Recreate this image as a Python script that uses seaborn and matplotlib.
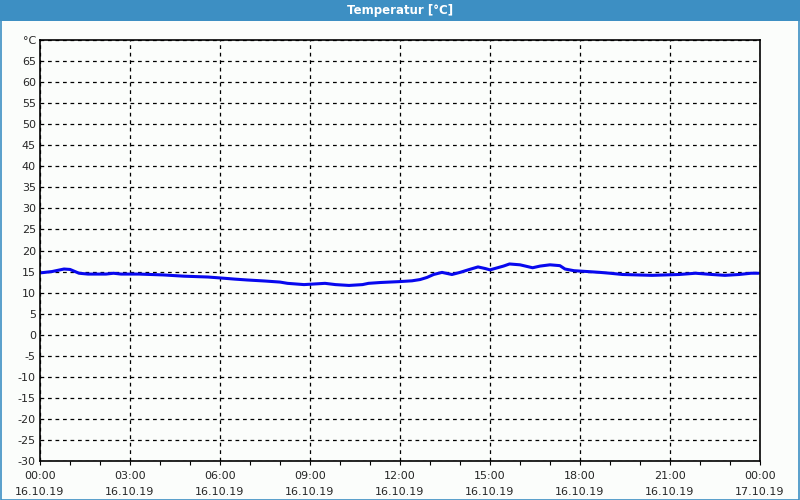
import matplotlib
matplotlib.use("Agg")
import matplotlib.pyplot as plt
import matplotlib.patches as mpatches
import seaborn as sns
import pandas as pd
import numpy as np

# data: hours since 16.10.19 00:00, temperature in °C
hours = [0.03, 0.4, 0.8, 1.0, 1.3, 1.6, 2.2, 2.45, 2.7, 3.3, 4.1, 4.8, 5.6,
         6.15, 6.5, 6.9, 7.5, 8.0, 8.25, 8.8, 9.5, 9.85, 10.3, 10.75, 10.95,
         11.35, 11.95, 12.4, 12.67, 12.9, 13.12, 13.4, 13.73, 14.0, 14.27,
         14.6, 14.85, 15.0, 15.25, 15.45, 15.65, 16.0, 16.42, 16.67, 17.0,
         17.33, 17.5, 17.8, 18.25, 18.67, 19.0, 19.42, 20.4, 21.3, 21.85,
         22.4, 22.83, 23.3, 23.7, 23.95]
temps = [14.7, 15.0, 15.6, 15.5, 14.6, 14.4, 14.4, 14.6, 14.4, 14.4, 14.2,
         13.9, 13.7, 13.4, 13.2, 13.0, 12.75, 12.5, 12.2, 11.9, 12.2, 11.9,
         11.7, 11.9, 12.2, 12.4, 12.6, 12.8, 13.1, 13.6, 14.3, 14.8, 14.3,
         14.8, 15.4, 16.1, 15.7, 15.4, 15.9, 16.3, 16.8, 16.6, 15.9, 16.3,
         16.6, 16.4, 15.6, 15.2, 15.0, 14.8, 14.6, 14.3, 14.1, 14.3, 14.6,
         14.3, 14.1, 14.3, 14.6, 14.6]

xtick_hours = [0, 3, 6, 9, 12, 15, 18, 21, 24]
xtick_labels = ["00:00\n16.10.19", "03:00\n16.10.19", "06:00\n16.10.19",
                "09:00\n16.10.19", "12:00\n16.10.19", "15:00\n16.10.19",
                "18:00\n16.10.19", "21:00\n16.10.19", "00:00\n17.10.19"]
ytick_vals = list(range(-30, 75, 5))
ytick_labels = [str(v) for v in ytick_vals[:-1]] + ["°C"]

sns.set_theme(style="white")
plt.rcParams['font.family'] = ['DejaVu Sans']

fig = plt.figure(figsize=(8, 5), dpi=100)
fig.patch.set_facecolor("#fbfdfb")

# title bar
title_blue = "#3d8fc3"
fig.patches.append(mpatches.Rectangle((0, 1 - 21 / 500), 1, 21 / 500,
                                      transform=fig.transFigure,
                                      facecolor=title_blue, edgecolor="none",
                                      zorder=0))
# border
fig.patches.append(mpatches.Rectangle((0.5 / 800, 0.5 / 500), 1 - 1.5 / 800,
                                      1 - 1 / 500, transform=fig.transFigure,
                                      facecolor="none", edgecolor=title_blue,
                                      linewidth=1.2, zorder=1))
fig.text(0.5, 1 - 10.5 / 500, "Temperatur [°C]", color="white",
         fontsize=8.5, fontweight="bold", ha="center", va="center")

ax = fig.add_axes([40 / 800, 39 / 500, 720 / 800, 421 / 500])
ax.set_facecolor("#fbfdfb")

df = pd.DataFrame({"h": hours, "t": temps})
sns.lineplot(data=df, x="h", y="t", ax=ax, color="#0808ee", linewidth=2.2)

ax.set_xlim(0, 24)
ax.set_ylim(-30, 70)
ax.set_xticks(xtick_hours)
ax.set_xticklabels(xtick_labels, fontsize=8, linespacing=1.8)
ax.set_xticks(list(range(0, 25)), minor=True)
ax.set_yticks(ytick_vals)
ax.set_yticklabels(ytick_labels, fontsize=8)
ax.set_xlabel("")
ax.set_ylabel("")

ax.grid(True, which="major", color="black", linestyle=(0, (3, 3)),
        linewidth=0.9)
ax.tick_params(axis="x", which="major", length=3, width=0.8, color="black",
               pad=4, direction="out", bottom=True)
ax.tick_params(axis="x", which="minor", length=3, width=0.8, color="black",
               direction="out", bottom=True)
ax.tick_params(axis="y", length=0, pad=3)
for s in ax.spines.values():
    s.set_color("black")
    s.set_linewidth(1.2)

fig.savefig("out.png", dpi=100, facecolor=fig.get_facecolor())
